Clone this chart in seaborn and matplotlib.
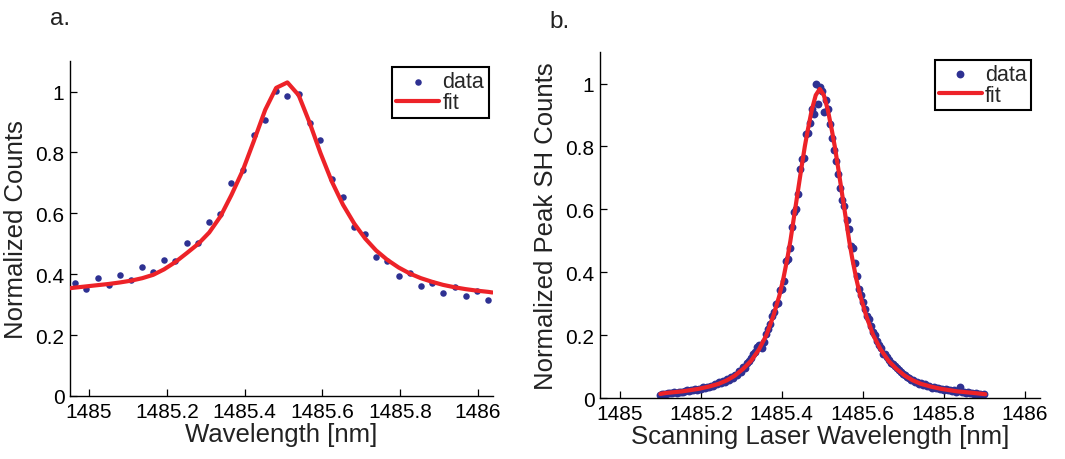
import matplotlib
matplotlib.use("Agg")
import matplotlib.pyplot as plt
import matplotlib.ticker as mticker
import seaborn as sns

# ---- panel a: measured points and fit ----
a_wavelength = [1484.964, 1484.993, 1485.022, 1485.051, 1485.080, 1485.109, 1485.137, 1485.165,
                1485.193, 1485.222, 1485.251, 1485.281, 1485.309, 1485.338, 1485.366, 1485.395,
                1485.423, 1485.453, 1485.481, 1485.510, 1485.539, 1485.567, 1485.595, 1485.624,
                1485.653, 1485.682, 1485.710, 1485.738, 1485.767, 1485.796, 1485.825, 1485.853,
                1485.882, 1485.910, 1485.940, 1485.968, 1485.997, 1486.026]
a_counts = [0.372, 0.352, 0.387, 0.364, 0.399, 0.382, 0.424, 0.407,
            0.446, 0.443, 0.501, 0.503, 0.571, 0.598, 0.698, 0.742,
            0.858, 0.906, 1.001, 0.986, 0.992, 0.897, 0.840, 0.714,
            0.655, 0.555, 0.531, 0.456, 0.445, 0.395, 0.403, 0.360,
            0.372, 0.338, 0.359, 0.327, 0.344, 0.316]

a_fit_wavelength = [1484.950, 1484.964, 1484.993, 1485.022, 1485.051, 1485.080, 1485.109, 1485.137,
                    1485.165, 1485.193, 1485.222, 1485.251, 1485.281, 1485.309, 1485.338, 1485.366,
                    1485.395, 1485.423, 1485.453, 1485.481, 1485.510, 1485.539, 1485.567, 1485.595,
                    1485.624, 1485.653, 1485.682, 1485.710, 1485.738, 1485.767, 1485.796, 1485.825,
                    1485.853, 1485.882, 1485.910, 1485.940, 1485.968, 1485.997, 1486.026, 1486.037]
a_fit = [0.354, 0.356, 0.360, 0.364, 0.368, 0.373, 0.379, 0.387,
         0.398, 0.416, 0.440, 0.469, 0.500, 0.537, 0.590, 0.660,
         0.740, 0.835, 0.940, 1.012, 1.030, 0.988, 0.898, 0.798,
         0.705, 0.628, 0.566, 0.517, 0.478, 0.447, 0.422, 0.402,
         0.387, 0.375, 0.365, 0.357, 0.351, 0.346, 0.342, 0.340]

# ---- panel b: SH scan and fit ----
b_wavelength = [
    1485.100, 1485.105, 1485.110, 1485.115, 1485.120, 1485.125, 1485.130, 1485.135, 1485.140, 1485.145,
    1485.150, 1485.155, 1485.160, 1485.165, 1485.170, 1485.175, 1485.180, 1485.185, 1485.190, 1485.195,
    1485.200, 1485.205, 1485.210, 1485.215, 1485.220, 1485.225, 1485.230, 1485.235, 1485.240, 1485.245,
    1485.250, 1485.255, 1485.260, 1485.265, 1485.270, 1485.275, 1485.280, 1485.285, 1485.290, 1485.295,
    1485.300, 1485.305, 1485.310, 1485.315, 1485.320, 1485.325, 1485.330, 1485.335, 1485.340, 1485.345,
    1485.350, 1485.355, 1485.360, 1485.365, 1485.370, 1485.375, 1485.380, 1485.385, 1485.390, 1485.395,
    1485.400, 1485.405, 1485.410, 1485.415, 1485.420, 1485.425, 1485.430, 1485.435, 1485.440, 1485.445,
    1485.450, 1485.455, 1485.460, 1485.465, 1485.470, 1485.475, 1485.480, 1485.485, 1485.490, 1485.495,
    1485.500, 1485.505, 1485.510, 1485.515, 1485.520, 1485.525, 1485.530, 1485.535, 1485.540, 1485.545,
    1485.550, 1485.555, 1485.560, 1485.565, 1485.570, 1485.575, 1485.580, 1485.585, 1485.590, 1485.595,
    1485.600, 1485.605, 1485.610, 1485.615, 1485.620, 1485.625, 1485.630, 1485.635, 1485.640, 1485.645,
    1485.650, 1485.655, 1485.660, 1485.665, 1485.670, 1485.675, 1485.680, 1485.685, 1485.690, 1485.695,
    1485.700, 1485.705, 1485.710, 1485.715, 1485.720, 1485.725, 1485.730, 1485.735, 1485.740, 1485.745,
    1485.750, 1485.755, 1485.760, 1485.765, 1485.770, 1485.775, 1485.780, 1485.785, 1485.790, 1485.795,
    1485.800, 1485.805, 1485.810, 1485.815, 1485.820, 1485.825, 1485.830, 1485.835, 1485.840, 1485.845,
    1485.850, 1485.855, 1485.860, 1485.865, 1485.870, 1485.875, 1485.880, 1485.885, 1485.890, 1485.895,
    1485.900]
b_counts = [
    0.010, 0.012, 0.014, 0.013, 0.016, 0.015, 0.017, 0.018, 0.017, 0.019,
    0.020, 0.019, 0.021, 0.024, 0.022, 0.026, 0.024, 0.028, 0.027, 0.030,
    0.029, 0.034, 0.031, 0.036, 0.034, 0.039, 0.037, 0.045, 0.043, 0.050,
    0.047, 0.055, 0.052, 0.061, 0.058, 0.066, 0.063, 0.074, 0.072, 0.085,
    0.083, 0.098, 0.096, 0.112, 0.119, 0.127, 0.140, 0.146, 0.163, 0.168,
    0.158, 0.178, 0.205, 0.218, 0.236, 0.262, 0.272, 0.299, 0.301, 0.343,
    0.346, 0.372, 0.436, 0.441, 0.478, 0.545, 0.590, 0.602, 0.648, 0.728,
    0.760, 0.762, 0.838, 0.842, 0.875, 0.918, 0.903, 0.998, 0.935, 0.990,
    0.975, 0.908, 0.948, 0.918, 0.872, 0.828, 0.790, 0.755, 0.712, 0.668,
    0.630, 0.612, 0.566, 0.536, 0.484, 0.478, 0.428, 0.389, 0.346, 0.328,
    0.304, 0.283, 0.262, 0.251, 0.230, 0.209, 0.200, 0.181, 0.170, 0.158,
    0.139, 0.140, 0.129, 0.120, 0.112, 0.108, 0.101, 0.094, 0.088, 0.083,
    0.076, 0.073, 0.066, 0.065, 0.058, 0.058, 0.051, 0.052, 0.045, 0.047,
    0.041, 0.043, 0.037, 0.039, 0.033, 0.035, 0.031, 0.033, 0.028, 0.030,
    0.026, 0.028, 0.024, 0.026, 0.022, 0.024, 0.020, 0.022, 0.036, 0.018,
    0.020, 0.017, 0.019, 0.015, 0.017, 0.014, 0.016, 0.012, 0.014, 0.011,
    0.013]

b_fit_wavelength = [1485.100, 1485.114, 1485.154, 1485.194, 1485.219, 1485.244, 1485.264, 1485.284,
                    1485.304, 1485.324, 1485.344, 1485.362, 1485.379, 1485.394, 1485.404, 1485.414,
                    1485.4214, 1485.429, 1485.439, 1485.449, 1485.457, 1485.464, 1485.474, 1485.484,
                    1485.494, 1485.504, 1485.514, 1485.524, 1485.531, 1485.539, 1485.549, 1485.559,
                    1485.5666, 1485.574, 1485.584, 1485.594, 1485.609, 1485.626, 1485.644, 1485.664,
                    1485.684, 1485.704, 1485.724, 1485.744, 1485.769, 1485.794, 1485.834, 1485.874,
                    1485.903]
b_fit = [0.013, 0.016, 0.021, 0.029, 0.036, 0.045, 0.056, 0.071,
         0.092, 0.118, 0.155, 0.200, 0.260, 0.325, 0.380, 0.445,
         0.500, 0.565, 0.650, 0.735, 0.800, 0.850, 0.915, 0.963,
         0.983, 0.963, 0.915, 0.850, 0.800, 0.735, 0.650, 0.565,
         0.500, 0.445, 0.380, 0.325, 0.260, 0.200, 0.155, 0.118,
         0.092, 0.071, 0.056, 0.045, 0.036, 0.029, 0.021, 0.016,
         0.012]

x_ticks = [1485, 1485.2, 1485.4, 1485.6, 1485.8, 1486]
y_ticks = [0, 0.2, 0.4, 0.6, 0.8, 1]

BLUE = "#2e3192"
RED = "#ed2228"

sns.set_theme(style="white")
plt.rcParams["font.family"] = ["Liberation Sans", "DejaVu Sans"]

fig = plt.figure(figsize=(10.65, 4.6), dpi=100)
ax_a = fig.add_axes([0.0657, 0.137, 0.397, 0.728])
ax_b = fig.add_axes([0.5634, 0.1326, 0.4131, 0.752])


def style_axis(ax, ylabel, xlabel):
    ax.set_xlim(1484.951, 1486.038)
    ax.set_ylim(0, 1.1)
    ax.set_xticks(x_ticks)
    ax.set_yticks(y_ticks)
    fmt = mticker.FuncFormatter(lambda v, p: "%g" % round(v, 4))
    ax.xaxis.set_major_formatter(fmt)
    ax.yaxis.set_major_formatter(fmt)
    ax.tick_params(direction="in", length=5, width=0.9, colors="black",
                   labelsize=15, pad=4, bottom=True, left=True)
    for side in ["top", "right"]:
        ax.spines[side].set_visible(False)
    for side in ["left", "bottom"]:
        ax.spines[side].set_color("black")
        ax.spines[side].set_linewidth(1.0)
    ax.set_xlabel(xlabel, fontsize=18.5, color="#222222", labelpad=1)
    ax.set_ylabel(ylabel, fontsize=18.5, color="#222222", labelpad=5)


def add_legend(ax, anchor):
    leg = ax.legend(loc="upper right", bbox_to_anchor=anchor, fontsize=15.5,
                    frameon=True, fancybox=False, framealpha=1,
                    edgecolor="black", handlelength=2.0, handletextpad=0.15,
                    borderpad=0.2, labelspacing=0.0, borderaxespad=0,
                    scatterpoints=1)
    leg.get_frame().set_linewidth(1.5)


# panel a
sns.scatterplot(x=a_wavelength, y=a_counts, ax=ax_a, color=BLUE, s=22,
                linewidth=0, label="data", zorder=2)
sns.lineplot(x=a_fit_wavelength, y=a_fit, ax=ax_a, color=RED, linewidth=3,
             sort=False, label="fit", zorder=3)
style_axis(ax_a, "Normalized Counts", "Wavelength [nm]")
add_legend(ax_a, (0.99, 0.982))

# panel b
sns.scatterplot(x=b_wavelength, y=b_counts, ax=ax_b, color=BLUE, s=32,
                linewidth=0, label="data", zorder=2)
sns.lineplot(x=b_fit_wavelength, y=b_fit, ax=ax_b, color=RED, linewidth=3,
             sort=False, label="fit", zorder=3)
style_axis(ax_b, "Normalized Peak SH Counts", "Scanning Laser Wavelength [nm]")
add_legend(ax_b, (0.98, 0.978))

fig.text(50 / 1065, 1 - 25 / 460, "a.", fontsize=17.5, color="#222222")
fig.text(549 / 1065, 1 - 28 / 460, "b.", fontsize=17.5, color="#222222")

fig.savefig("out.png", dpi=100)
